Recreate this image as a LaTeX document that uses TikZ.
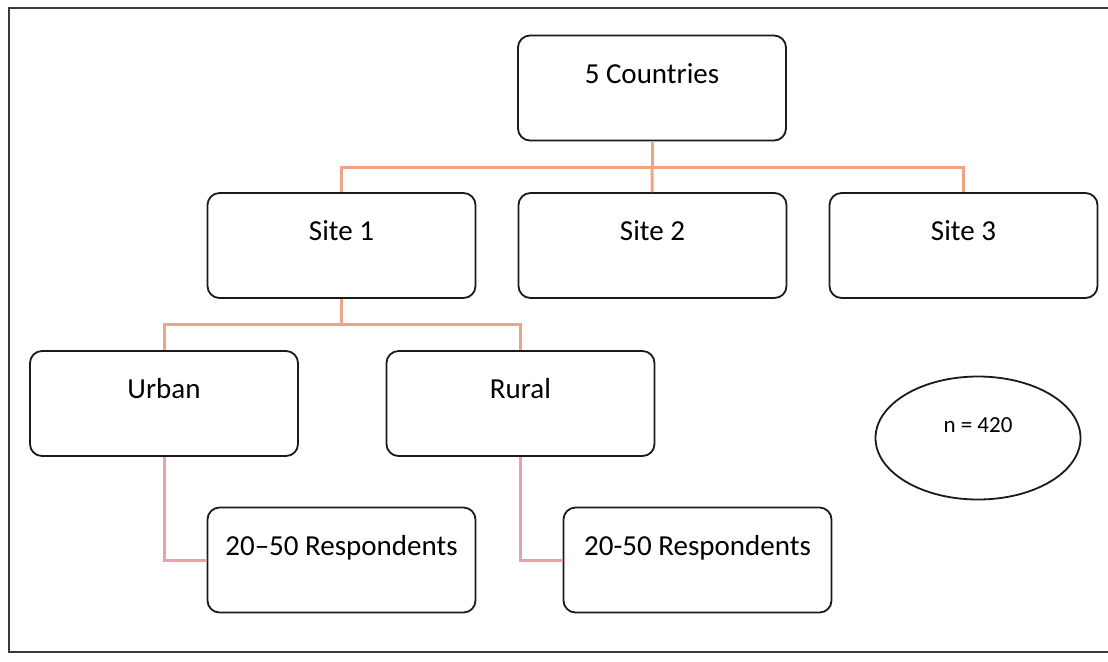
\documentclass[tikz,border=0pt]{standalone}
\usepackage{fontspec}
\setmainfont{Carlito}
\usetikzlibrary{calc,shapes.geometric}
\definecolor{svInk}{HTML}{1A1A1A}
\definecolor{svLink}{HTML}{EEA583}
\definecolor{svPink}{HTML}{E9A3A8}
\definecolor{svFrame}{HTML}{3A3A3A}
\tikzset{
  box/.style     ={draw=svInk,line width=0.9pt,rounded corners=6pt,fill=white,
                   minimum width=134pt,minimum height=52.5pt,inner sep=0pt,
                   font=\fontsize{14.5}{17}\selectfont,text height=10pt,text depth=14.6pt},
  tally/.style   ={draw=svInk,line width=0.9pt,ellipse,fill=white,
                   minimum width=102.5pt,minimum height=61.5pt,inner sep=0pt,
                   font=\fontsize{11.5}{14}\selectfont,text height=8pt,text depth=14pt},
  link/.style    ={svLink,line width=1.5pt},
  linkp/.style   ={svPink,line width=1.5pt},
  frame/.style   ={svFrame,line width=1pt},
}
\begin{document}
\begin{tikzpicture}[x=0.5pt,y=-0.5pt]
\useasboundingbox (0,0) rectangle (1108,661);
\draw[frame] (1108,8) -- (9,8) -- (9,652) -- (1108,652);

%% tree
\node[box] (countries) at (652,88) {5 Countries};
\node[box] (site1) at (341.5,245.5) {Site 1};
\node[box] (site2) at (652.5,245.5) {Site 2};
\node[box] (site3) at (963.5,245.5) {Site 3};
\node[box] (urban) at (164,403.5) {Urban};
\node[box] (rural) at (520.5,403.5) {Rural};
\node[box] (resp1) at (341.5,560) {20–50 Respondents};
\node[box] (resp2) at (697.5,560) {20-50 Respondents};
\node[tally] (total) at (978,438) {n = 420};

\coordinate (bus1) at (652,167);
\coordinate (bus2) at (341.5,324);

\draw[link] (countries) -- (bus1);
\draw[link] (site1.north) |- (bus1) -| (site3.north);
\draw[link] (bus1) -- (site2);
\draw[link] (site1) -- (bus2);
\draw[link] (urban.north) |- (bus2) -| (rural.north);
\draw[linkp] (urban.south) |- (resp1.west);
\draw[linkp] (rural.south) |- (resp2.west);
\end{tikzpicture}
\end{document}
